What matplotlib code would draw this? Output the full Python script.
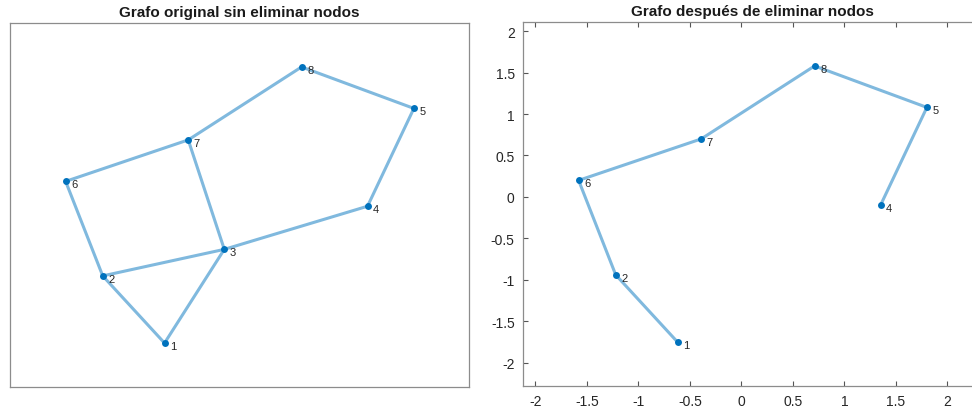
import numpy as np
import matplotlib
matplotlib.use("Agg")
import matplotlib.pyplot as plt

plt.rcParams['font.family'] = ['Liberation Sans', 'DejaVu Sans']

# node coordinates (node id -> x, y)
node_ids = [1, 2, 3, 4, 5, 6, 7, 8]
node_x = [-0.62, -1.22, -0.04, 1.35, 1.80, -1.58, -0.39, 0.71]
node_y = [-1.75, -0.94, -0.62, -0.10, 1.08, 0.20, 0.70, 1.58]

edges_orig = [(1, 2), (1, 3), (2, 3), (2, 6), (6, 7), (7, 3), (7, 8), (8, 5), (5, 4), (4, 3)]
removed = [3]
edges_new = [(1, 2), (2, 6), (6, 7), (7, 8), (8, 5), (5, 4)]

xlim = (-2.12, 2.335)
ylim = (-2.28, 2.11)
xticks = [-2, -1.5, -1, -0.5, 0, 0.5, 1, 1.5, 2]
yticks = [-2, -1.5, -1, -0.5, 0, 0.5, 1, 1.5, 2]

node_col = '#0072BD'
edge_col = '#80B9DE'
pos = {n: (x, y) for n, x, y in zip(node_ids, node_x, node_y)}


def draw_graph(ax, nodes, edges):
    for a, b in edges:
        ax.plot([pos[a][0], pos[b][0]], [pos[a][1], pos[b][1]], color=edge_col,
                lw=2.2, solid_capstyle='butt', zorder=1)
    xs = [pos[n][0] for n in nodes]
    ys = [pos[n][1] for n in nodes]
    ax.plot(xs, ys, 'o', color=node_col, ms=5, mec='none', zorder=2)
    for n in nodes:
        ax.annotate(str(n), pos[n], xytext=(4, -2), textcoords='offset points',
                    fontsize=8, color='#262626', va='center', ha='left', zorder=3)
    ax.set_xlim(*xlim)
    ax.set_ylim(*ylim)
    for s in ax.spines.values():
        s.set_color('#8c8c8c')
        s.set_linewidth(0.9)


fig = plt.figure(figsize=(9.72, 4.10), dpi=100)
ax1 = fig.add_axes([10 / 972, 22 / 410, 459 / 972, 364 / 410])
ax2 = fig.add_axes([523 / 972, 23 / 410, 459 / 972, 364 / 410])

draw_graph(ax1, node_ids, edges_orig)
ax1.set_xticks([])
ax1.set_yticks([])
ax1.set_title('Grafo original sin eliminar nodos', fontsize=11, fontweight='bold',
              color='#1a1a1a', pad=5)

kept = [n for n in node_ids if n not in removed]
draw_graph(ax2, kept, edges_new)
ax2.set_xticks(xticks)
ax2.set_yticks(yticks)
ax2.set_xticklabels(['-2', '-1.5', '-1', '-0.5', '0', '0.5', '1', '1.5', '2'])
ax2.set_yticklabels(['-2', '-1.5', '-1', '-0.5', '0', '0.5', '1', '1.5', '2'])
ax2.tick_params(direction='in', length=3.5, width=0.8, color='#555555',
                labelsize=10, labelcolor='#262626', top=True, right=True, pad=6)
ax2.set_title('Grafo después de eliminar nodos', fontsize=11, fontweight='bold',
              color='#1a1a1a', pad=5)

fig.savefig('out.png', dpi=100)
